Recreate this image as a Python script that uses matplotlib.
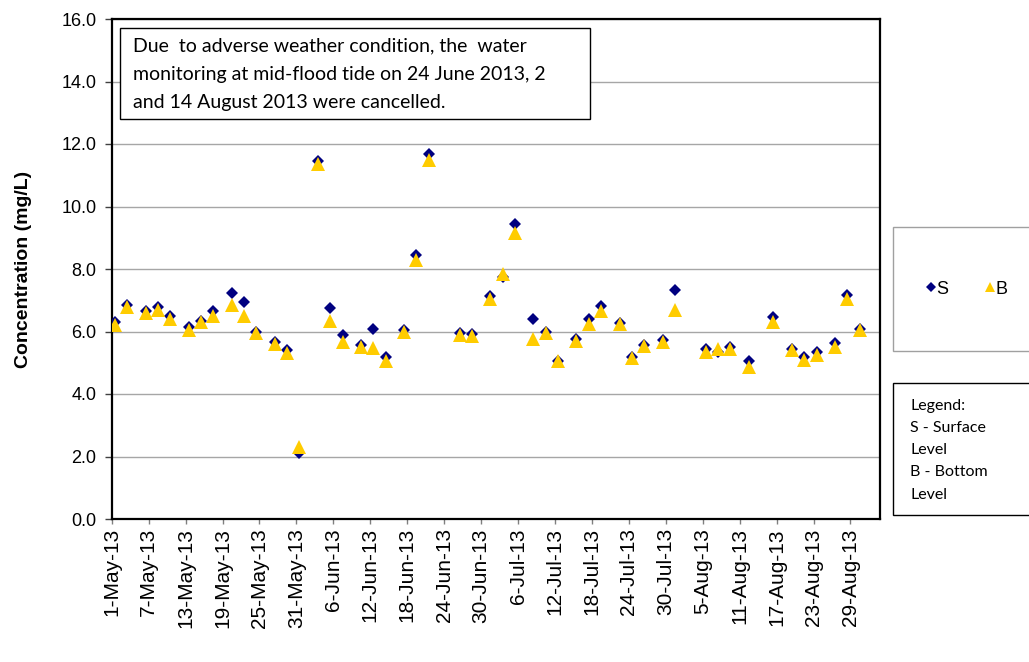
import datetime as dt
import matplotlib
matplotlib.use("Agg")
import matplotlib.pyplot as plt
import matplotlib.dates as mdates
from matplotlib.patches import Rectangle
from matplotlib.ticker import FuncFormatter, MultipleLocator

# sampling dates (2013) and measured concentrations (mg/L)
dates = ["2013-05-01", "2013-05-03", "2013-05-06", "2013-05-08", "2013-05-10",
         "2013-05-13", "2013-05-15", "2013-05-17", "2013-05-20", "2013-05-22",
         "2013-05-24", "2013-05-27", "2013-05-29", "2013-05-31", "2013-06-03",
         "2013-06-05", "2013-06-07", "2013-06-10", "2013-06-12", "2013-06-14",
         "2013-06-17", "2013-06-19", "2013-06-21", "2013-06-26", "2013-06-28",
         "2013-07-01", "2013-07-03", "2013-07-05", "2013-07-08", "2013-07-10",
         "2013-07-12", "2013-07-15", "2013-07-17", "2013-07-19", "2013-07-22",
         "2013-07-24", "2013-07-26", "2013-07-29", "2013-07-31", "2013-08-05",
         "2013-08-07", "2013-08-09", "2013-08-12", "2013-08-16", "2013-08-19",
         "2013-08-21", "2013-08-23", "2013-08-26", "2013-08-28", "2013-08-30"]
surface = [6.30, 6.85, 6.67, 6.77, 6.50, 6.15, 6.35, 6.67, 7.23, 6.93,
           6.00, 5.65, 5.42, 2.10, 11.47, 6.75, 5.90, 5.58, 6.09, 5.17,
           6.04, 8.46, 11.67, 5.95, 5.92, 7.13, 7.75, 9.45, 6.41, 5.98,
           5.07, 5.76, 6.41, 6.81, 6.27, 5.17, 5.56, 5.74, 7.34, 5.44,
           5.36, 5.52, 5.07, 6.45, 5.44, 5.18, 5.34, 5.63, 7.16, 6.09]
bottom = [6.20, 6.80, 6.60, 6.70, 6.40, 6.05, 6.30, 6.50, 6.85, 6.50,
          5.95, 5.60, 5.30, 2.30, 11.35, 6.35, 5.65, 5.50, 5.47, 5.05,
          6.00, 8.30, 11.50, 5.90, 5.85, 7.05, 7.85, 9.15, 5.75, 5.95,
          5.05, 5.70, 6.25, 6.65, 6.25, 5.15, 5.55, 5.65, 6.70, 5.35,
          5.45, 5.45, 4.85, 6.30, 5.40, 5.10, 5.25, 5.50, 7.05, 6.05]

W, H = 1029, 662
fig = plt.figure(figsize=(W / 100, H / 100), dpi=100)
plt.rcParams['font.family'] = ['Liberation Sans', 'DejaVu Sans']


def fx(px):
    return px / W


def fy(py):
    return 1 - py / H


ax = fig.add_axes([fx(111.7), fy(519), fx(880) - fx(111.7), fy(19) - fy(519)])

start = mdates.date2num(dt.date(2013, 5, 1))
# Excel date axis puts each point in the middle of its day
xs = [mdates.date2num(dt.date.fromisoformat(d)) + 0.5 for d in dates]

ax.plot(xs, surface, linestyle='none', marker='D', ms=6.2, mew=0,
        color='#000080', label='S', zorder=3)
ax.plot(xs, bottom, linestyle='none', marker='^', ms=9.6, mew=0,
        color='#FFCC00', label='B', zorder=4)

ax.set_xlim(start, start + 124.8)
ax.set_ylim(0, 16)
ax.yaxis.set_major_locator(MultipleLocator(2))
ax.yaxis.set_major_formatter(FuncFormatter(lambda v, p: f"{v:.1f}"))
ax.set_xticks([start + 6 * i for i in range(21)])
ax.xaxis.set_major_formatter(FuncFormatter(
    lambda v, p: f"{mdates.num2date(v).day}-{mdates.num2date(v):%b-%y}"))

ax.grid(axis='y', color='#a6a6a6', linewidth=1)
ax.set_axisbelow(True)
for s in ax.spines.values():
    s.set_color('black')
    s.set_linewidth(1.6)

ax.tick_params(axis='x', direction='out', length=3.6, width=1, color='#808080',
               labelsize=15, rotation=90, pad=3)
ax.tick_params(axis='y', direction='out', length=5, width=1, color='#404040',
               labelsize=13, pad=6)
ax.set_ylabel('Concentration (mg/L)', fontsize=14, fontweight='bold')
ax.yaxis.set_label_coords(-0.104, 0.5)

# note box
fig.patches.append(Rectangle((fx(120), fy(119)), fx(590) - fx(120), fy(28) - fy(119),
                             transform=fig.transFigure, facecolor='white',
                             edgecolor='black', linewidth=1, zorder=5))
fig.text(fx(133), fy(37.5), "Due  to adverse weather condition, the  water\n"
         "monitoring at mid-flood tide on 24 June 2013, 2\n"
         "and 14 August 2013 were cancelled.",
         family='Lato', fontsize=14, va='top', ha='left', linespacing=1.79,
         zorder=6, transform=fig.transFigure)

# legend box
fig.patches.append(Rectangle((fx(893), fy(351)), fx(1040) - fx(893), fy(227) - fy(351),
                             transform=fig.transFigure, facecolor='white',
                             edgecolor='#a0a0a0', linewidth=1, zorder=5))
leg = fig.legend(loc='center', bbox_to_anchor=(fx(967.5), fy(289)), ncol=2,
                 frameon=False, fontsize=13, handlelength=0.4, handletextpad=0.1,
                 columnspacing=2.1, markerscale=0.75)
leg.set_zorder(7)

# key box
fig.patches.append(Rectangle((fx(893), fy(515)), fx(1040) - fx(893), fy(383) - fy(515),
                             transform=fig.transFigure, facecolor='white',
                             edgecolor='black', linewidth=1, zorder=5))
fig.text(fx(910.5), fy(399), "Legend:\nS - Surface\nLevel\nB - Bottom\nLevel",
         family='Lato', fontsize=11.5, va='top', ha='left', linespacing=1.74,
         zorder=6, transform=fig.transFigure)

fig.savefig('out.png', dpi=100)
